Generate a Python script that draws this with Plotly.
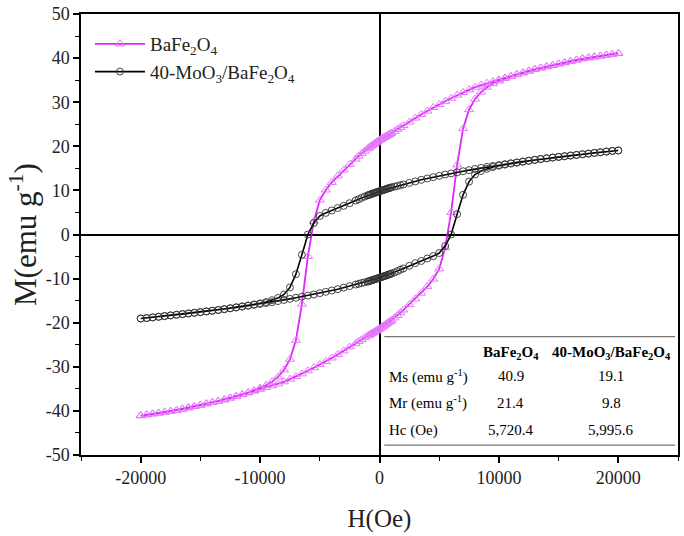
import plotly.graph_objects as go

# Field sweep (Oe), descending branch order
H_DESC = [20000, 19500, 19000, 18500, 18000, 17500, 17000, 16500, 16000, 15500,
          15000, 14500, 14000, 13500, 13000, 12500, 12000, 11500, 11000, 10500,
          10000, 9500, 9000, 8500, 8000, 7500, 7000, 6500, 6000, 5500,
          5000, 4500, 4000, 3500, 3000, 2500, 2000, 1750, 1500, 1250,
          1000, 900, 800, 700, 600, 500, 400, 300, 200, 100,
          0, -100, -200, -300, -400, -500, -600, -700, -800, -900,
          -1000, -1250, -1500, -1750, -2000, -2500, -3000, -3500, -4000, -4500,
          -5000, -5500, -6000, -6500, -7000, -7500, -8000, -8500, -9000, -9500,
          -10000, -10500, -11000, -11500, -12000, -12500, -13000, -13500, -14000, -14500,
          -15000, -15500, -16000, -16500, -17000, -17500, -18000, -18500, -19000, -19500,
          -20000]
# Field sweep (Oe), ascending branch order
H_ASC = [-20000, -19500, -19000, -18500, -18000, -17500, -17000, -16500, -16000, -15500,
         -15000, -14500, -14000, -13500, -13000, -12500, -12000, -11500, -11000, -10500,
         -10000, -9500, -9000, -8500, -8000, -7500, -7000, -6500, -6000, -5500,
         -5000, -4500, -4000, -3500, -3000, -2500, -2000, -1750, -1500, -1250,
         -1000, -900, -800, -700, -600, -500, -400, -300, -200, -100,
         0, 100, 200, 300, 400, 500, 600, 700, 800, 900,
         1000, 1250, 1500, 1750, 2000, 2500, 3000, 3500, 4000, 4500,
         5000, 5500, 6000, 6500, 7000, 7500, 8000, 8500, 9000, 9500,
         10000, 10500, 11000, 11500, 12000, 12500, 13000, 13500, 14000, 14500,
         15000, 15500, 16000, 16500, 17000, 17500, 18000, 18500, 19000, 19500,
         20000]

# BaFe2O4 magnetization (emu/g)
BFO_DESC = [41.1, 40.9, 40.7, 40.5, 40.3, 40.1, 39.9, 39.6, 39.3, 39.0,
            38.7, 38.4, 38.1, 37.8, 37.5, 37.1, 36.7, 36.3, 35.9, 35.5,
            35.1, 34.7, 34.3, 33.9, 33.4, 32.8, 32.2, 31.6, 30.9, 30.2,
            29.5, 28.8, 28.0, 27.2, 26.4, 25.5, 24.7, 24.25, 23.85, 23.4,
            23.0, 22.85, 22.7, 22.5, 22.35, 22.2, 22.05, 21.9, 21.7, 21.55,
            21.4, 21.2, 21.0, 20.8, 20.6, 20.45, 20.25, 20.05, 19.85, 19.65,
            19.45, 18.9, 18.35, 17.75, 17.1, 15.9, 14.6, 13.3, 11.8, 10.1,
            7.8, 3.0, -5.0, -15.8, -24.0, -28.3, -30.7, -32.3, -33.4, -34.2,
            -34.8, -35.4, -35.85, -36.25, -36.65, -37.05, -37.45, -37.75, -38.05, -38.35,
            -38.65, -38.95, -39.25, -39.55, -39.85, -40.05, -40.25, -40.45, -40.65, -40.85,
            -41.05]
BFO_ASC = [-41.1, -40.9, -40.7, -40.5, -40.3, -40.1, -39.9, -39.6, -39.3, -39.0,
           -38.7, -38.4, -38.1, -37.8, -37.5, -37.1, -36.7, -36.3, -35.9, -35.5,
           -35.1, -34.7, -34.3, -33.9, -33.4, -32.8, -32.2, -31.6, -30.9, -30.2,
           -29.5, -28.8, -28.0, -27.2, -26.4, -25.5, -24.7, -24.25, -23.85, -23.4,
           -23.0, -22.85, -22.7, -22.5, -22.35, -22.2, -22.05, -21.9, -21.7, -21.55,
           -21.4, -21.2, -21.0, -20.8, -20.6, -20.45, -20.25, -20.05, -19.85, -19.65,
           -19.45, -18.9, -18.35, -17.75, -17.1, -15.9, -14.6, -13.3, -11.8, -10.1,
           -7.8, -3.0, 5.0, 15.8, 24.0, 28.3, 30.7, 32.3, 33.4, 34.2,
           34.8, 35.4, 35.85, 36.25, 36.65, 37.05, 37.45, 37.75, 38.05, 38.35,
           38.65, 38.95, 39.25, 39.55, 39.85, 40.05, 40.25, 40.45, 40.65, 40.85,
           41.05]

# 40-MoO3/BaFe2O4 magnetization (emu/g)
MOO_DESC = [19.05, 18.95, 18.8, 18.65, 18.5, 18.35, 18.2, 18.05, 17.9, 17.75,
            17.6, 17.45, 17.3, 17.12, 16.95, 16.75, 16.55, 16.35, 16.15, 15.95,
            15.75, 15.55, 15.35, 15.1, 14.85, 14.6, 14.35, 14.1, 13.85, 13.6,
            13.3, 13.0, 12.7, 12.4, 12.05, 11.7, 11.35, 11.2, 11.0, 10.85,
            10.7, 10.61, 10.52, 10.43, 10.34, 10.25, 10.16, 10.07, 9.98, 9.89,
            9.8, 9.71, 9.62, 9.53, 9.44, 9.35, 9.25, 9.15, 9.05, 8.95,
            8.85, 8.6, 8.3, 8.0, 7.7, 7.1, 6.5, 6.0, 5.45, 4.9,
            4.2, 2.6, 0.0, -4.6, -9.0, -12.0, -13.6, -14.4, -14.9, -15.3,
            -15.6, -15.85, -16.1, -16.3, -16.5, -16.7, -16.9, -17.1, -17.28, -17.44,
            -17.6, -17.75, -17.9, -18.05, -18.2, -18.35, -18.5, -18.65, -18.8, -18.95,
            -19.05]
MOO_ASC = [-19.05, -18.95, -18.8, -18.65, -18.5, -18.35, -18.2, -18.05, -17.9, -17.75,
           -17.6, -17.45, -17.3, -17.12, -16.95, -16.75, -16.55, -16.35, -16.15, -15.95,
           -15.75, -15.55, -15.35, -15.1, -14.85, -14.6, -14.35, -14.1, -13.85, -13.6,
           -13.3, -13.0, -12.7, -12.4, -12.05, -11.7, -11.35, -11.2, -11.0, -10.85,
           -10.7, -10.61, -10.52, -10.43, -10.34, -10.25, -10.16, -10.07, -9.98, -9.89,
           -9.8, -9.71, -9.62, -9.53, -9.44, -9.35, -9.25, -9.15, -9.05, -8.95,
           -8.85, -8.6, -8.3, -8.0, -7.7, -7.1, -6.5, -6.0, -5.45, -4.9,
           -4.2, -2.6, 0.0, 4.6, 9.0, 12.0, 13.6, 14.4, 14.9, 15.3,
           15.6, 15.85, 16.1, 16.3, 16.5, 16.7, 16.9, 17.1, 17.28, 17.44,
           17.6, 17.75, 17.9, 18.05, 18.2, 18.35, 18.5, 18.65, 18.8, 18.95,
           19.05]

X_TICKS = [-20000, -10000, 0, 10000, 20000]
X_TICKTEXT = ["-20000", "-10000", "0", "10000", "20000"]
Y_TICKS = [-50, -40, -30, -20, -10, 0, 10, 20, 30, 40, 50]
Y_TICKTEXT = ["-50", "-40", "-30", "-20", "-10", "0", "10", "20", "30", "40", "50"]

TABLE_HEADER = ["", "<b>BaFe<sub>2</sub>O<sub>4</sub></b>", "<b>40-MoO<sub>3</sub>/BaFe<sub>2</sub>O<sub>4</sub></b>"]
TABLE_ROWS = [
    ["Ms (emu g<sup>-1</sup>)", "40.9", "19.1"],
    ["Mr (emu g<sup>-1</sup>)", "21.4", "9.8"],
    ["Hc (Oe)", "5,720.4", "5,995.6"],
]

FONT = "Liberation Serif, Times New Roman, serif"
MAG = "rgb(222,40,250)"
MAG_MK = "rgb(228,120,250)"

fig = go.Figure()

fig.add_trace(go.Scatter(
    x=H_DESC + H_ASC, y=BFO_DESC + BFO_ASC, mode="lines+markers",
    name="BaFe<sub>2</sub>O<sub>4</sub>",
    line=dict(color=MAG, width=1.8),
    marker=dict(symbol="triangle-up-open", size=8, color=MAG_MK, line=dict(width=1, color=MAG_MK)),
))
fig.add_trace(go.Scatter(
    x=H_DESC + H_ASC, y=MOO_DESC + MOO_ASC, mode="lines+markers",
    name="40-MoO<sub>3</sub>/BaFe<sub>2</sub>O<sub>4</sub>",
    line=dict(color="black", width=1.6),
    marker=dict(symbol="circle-open", size=7, color="#333", line=dict(width=0.9, color="#333")),
))

# table
col_x = [0.512, 0.7195, 0.888]
col_anchor = ["left", "center", "center"]
row_y = [0.231, 0.179, 0.118, 0.0564]
ann = []
for j, t in enumerate(TABLE_HEADER):
    if t:
        ann.append(dict(x=col_x[j], y=row_y[0], xref="paper", yref="paper", text=t,
                        showarrow=False, xanchor=col_anchor[j], yanchor="middle",
                        font=dict(family=FONT, size=15, color="black")))
for i, row in enumerate(TABLE_ROWS):
    for j, t in enumerate(row):
        ann.append(dict(x=col_x[j], y=row_y[i + 1], xref="paper", yref="paper", text=t,
                        showarrow=False, xanchor=col_anchor[j], yanchor="middle",
                        font=dict(family=FONT, size=15, color="black")))

shapes = [
    dict(type="line", xref="paper", yref="paper", x0=0.508, x1=0.995, y0=0.2686, y1=0.2686,
         line=dict(color="#777", width=1.2)),
    dict(type="line", xref="paper", yref="paper", x0=0.508, x1=0.995, y0=0.0226, y1=0.0226,
         line=dict(color="#777", width=1.2)),
]

axis_common = dict(
    showline=True, linecolor="black", linewidth=1.5, mirror=True,
    ticks="outside", ticklen=6, tickwidth=1.5, tickcolor="black",
    showgrid=False, zeroline=True, zerolinecolor="black", zerolinewidth=1.5,
    tickfont=dict(family=FONT, size=18, color="#222"),
)

fig.update_layout(
    width=684, height=536,
    margin=dict(l=81, r=4, t=12, b=81),
    paper_bgcolor="white", plot_bgcolor="white",
    font=dict(family=FONT, color="black"),
    xaxis=dict(range=[-25000, 25000], tickvals=X_TICKS, ticktext=X_TICKTEXT,
               minor=dict(tickvals=[-25000, -15000, -5000, 5000, 15000, 25000], ticks="outside",
                          ticklen=4, tickwidth=1.3, tickcolor="black"),
               title=dict(text="H(Oe)", font=dict(family=FONT, size=25, color="#222"), standoff=22),
               **axis_common),
    yaxis=dict(range=[-50, 50], tickvals=Y_TICKS, ticktext=Y_TICKTEXT,
               minor=dict(tickvals=[-45, -35, -25, -15, -5, 5, 15, 25, 35, 45], ticks="outside",
                          ticklen=4, tickwidth=1.3, tickcolor="black"),
               title=dict(text="M(emu g<sup>-1</sup>)", font=dict(family=FONT, size=31, color="#222"), standoff=0),
               **axis_common),
    legend=dict(x=0.015, y=0.975, xanchor="left", yanchor="top", bgcolor="rgba(0,0,0,0)",
                font=dict(family=FONT, size=19, color="#222"), itemwidth=50, tracegroupgap=0),
    annotations=ann, shapes=shapes, showlegend=True,
)

fig.write_html("out.html")
